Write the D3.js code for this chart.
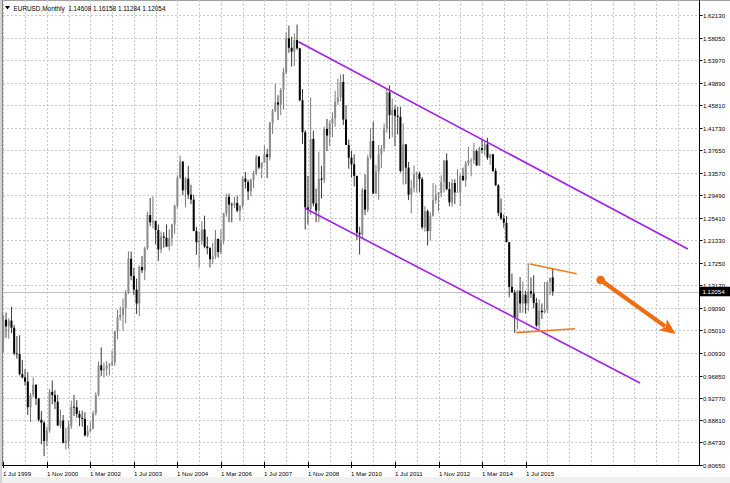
<!DOCTYPE html>
<html><head><meta charset="utf-8">
<script src="https://cdn.jsdelivr.net/npm/d3@7"></script>
<style>html,body{margin:0;padding:0;background:#fff;}svg{display:block;}</style>
</head><body>
<svg id="c" width="730" height="483"></svg>
<script>
// ---- data: EURUSD monthly, Jul 1999 .. May 2016 ----
const startMonth = "Jul 1999";
const opens = [
1.0345,1.0695,1.0575,1.0680,1.0550,1.0085,
1.0070,0.9710,0.9650,0.9575,0.9110,0.9335,0.9520,0.9270,0.8885,0.8830,0.8500,0.8690,
0.9390,0.9330,0.9210,0.8780,0.8870,0.8470,0.8500,0.8770,0.9120,0.9110,0.8990,0.8920,
0.8900,0.8600,0.8680,0.8720,0.9000,0.9330,0.9870,0.9780,0.9810,0.9860,0.9890,0.9920,
1.0490,1.0740,1.0780,1.0910,1.1180,1.1800,1.1490,1.1240,1.0990,1.1650,1.1590,1.1990,
1.2590,1.2460,1.2480,1.2320,1.1970,1.2200,1.2180,1.2020,1.2170,1.2420,1.2760,1.3260,
1.3560,1.3040,1.3250,1.2960,1.2870,1.2300,1.2100,1.2130,1.2330,1.2020,1.1990,1.1790,
1.1840,1.2160,1.1920,1.2120,1.2620,1.2920,1.2780,1.2770,1.2810,1.2670,1.2760,1.3250,
1.3190,1.3020,1.3230,1.3350,1.3650,1.3450,1.3540,1.3690,1.3640,1.4260,1.4480,1.4630,
1.4590,1.4860,1.5180,1.5790,1.5620,1.5550,1.5760,1.5610,1.4670,1.4090,1.2730,1.2700,
1.3970,1.2800,1.2670,1.3250,1.3230,1.4150,1.4030,1.4250,1.4340,1.4640,1.4720,1.5000,
1.4320,1.3860,1.3630,1.3510,1.3300,1.2270,1.2240,1.3050,1.2690,1.3630,1.3930,1.2980,
1.3380,1.3690,1.3800,1.4160,1.4810,1.4400,1.4500,1.4390,1.4370,1.3390,1.3870,1.3450,
1.2960,1.3080,1.3330,1.3340,1.3240,1.2370,1.2660,1.2300,1.2580,1.2860,1.2960,1.2990,
1.3190,1.3580,1.3060,1.2820,1.3170,1.3000,1.3010,1.3300,1.3220,1.3530,1.3580,1.3590,
1.3750,1.3490,1.3800,1.3770,1.3870,1.3630,1.3690,1.3390,1.3130,1.2630,1.2530,1.2450,
1.2100,1.1290,1.1190,1.0730,1.1220,1.0990,1.1150,1.0990,1.1210,1.1170,1.1000,1.0590,
1.0860,1.0830,1.0870,1.1380,1.14608];
const highs = [
1.0780,1.0825,1.0720,1.0930,1.0600,1.0400,
1.0415,0.9965,0.9800,0.9745,0.9370,0.9650,0.9520,0.9280,0.9040,0.8860,0.8760,0.9440,
0.9595,0.9420,0.9335,0.9070,0.8970,0.8740,0.8860,0.9230,0.9335,0.9240,0.9050,0.9050,
0.9020,0.8780,0.8850,0.9050,0.9380,0.9940,1.0195,0.9920,0.9950,0.9910,1.0140,1.0490,
1.0880,1.0935,1.1080,1.1230,1.1935,1.1930,1.1640,1.1440,1.1680,1.1850,1.2020,1.2650,
1.2900,1.2930,1.2490,1.2420,1.2290,1.2280,1.2420,1.2330,1.2430,1.2780,1.3310,1.3667,
1.3570,1.3280,1.3480,1.3140,1.2960,1.2380,1.2290,1.2480,1.2580,1.2200,1.2010,1.2090,
1.2320,1.2160,1.2330,1.2630,1.2980,1.2980,1.2820,1.2920,1.2940,1.2770,1.3290,1.3370,
1.3230,1.3250,1.3390,1.3680,1.3660,1.3550,1.3850,1.3790,1.4280,1.4510,1.4970,1.4760,
1.4890,1.5250,1.5900,1.6020,1.5820,1.5880,1.6038,1.5620,1.4870,1.4130,1.3300,1.4720,
1.4120,1.3070,1.3740,1.3480,1.4190,1.4330,1.4300,1.4450,1.4840,1.5060,1.5140,1.5140,
1.4580,1.3960,1.3750,1.3690,1.3300,1.2380,1.3080,1.3330,1.3680,1.4160,1.4280,1.3500,
1.3860,1.3860,1.4250,1.4880,1.4940,1.4700,1.4580,1.4550,1.4550,1.4250,1.3880,1.3550,
1.3230,1.3490,1.3380,1.3380,1.3280,1.2750,1.2690,1.2640,1.3170,1.3140,1.3010,1.3310,
1.3590,1.3710,1.3190,1.3240,1.3240,1.3420,1.3340,1.3450,1.3570,1.3830,1.3620,1.3900,
1.3780,1.3830,1.3970,1.3910,1.3990,1.3700,1.3700,1.3440,1.3150,1.2890,1.2600,1.2570,
1.2100,1.1530,1.1240,1.1230,1.1470,1.1390,1.1220,1.1715,1.1460,1.1500,1.1090,1.1060,
1.0990,1.1380,1.1390,1.1460,1.16158];
const lows = [
1.0107,1.0370,1.0350,1.0450,1.0050,0.9990,
0.9685,0.9630,0.9505,0.8970,0.8845,0.9290,0.9150,0.8850,0.8440,0.8225,0.8400,0.8650,
0.9165,0.9080,0.8770,0.8730,0.8455,0.8345,0.8365,0.8720,0.8950,0.8920,0.8770,0.8760,
0.8580,0.8570,0.8660,0.8710,0.8960,0.9310,0.9680,0.9650,0.9680,0.9690,0.9860,0.9860,
1.0340,1.0680,1.0500,1.0630,1.1160,1.1410,1.1140,1.0800,1.0760,1.1540,1.1410,1.1960,
1.2390,1.2350,1.2060,1.1760,1.1900,1.2000,1.2010,1.1950,1.2030,1.2250,1.2710,1.3250,
1.2950,1.2730,1.2880,1.2790,1.2300,1.1870,1.1640,1.2050,1.1990,1.1880,1.1640,1.1700,
1.1800,1.1820,1.1880,1.2060,1.2560,1.2460,1.2460,1.2720,1.2640,1.2480,1.2710,1.3070,
1.2860,1.2930,1.3080,1.3310,1.3420,1.3260,1.3540,1.3260,1.3580,1.4060,1.4450,1.4310,
1.4400,1.4500,1.5140,1.5530,1.5280,1.5290,1.5580,1.4650,1.3880,1.2330,1.2420,1.2590,
1.2750,1.2460,1.2460,1.2890,1.3170,1.3750,1.3840,1.4000,1.4190,1.4580,1.4650,1.4220,
1.3860,1.3430,1.3270,1.3110,1.2140,1.1876,1.2150,1.2590,1.2640,1.3600,1.2970,1.2970,
1.2870,1.3440,1.3740,1.4080,1.3970,1.4000,1.3840,1.4050,1.3360,1.3140,1.3150,1.2860,
1.2620,1.3000,1.3000,1.3000,1.2330,1.2290,1.2040,1.2130,1.2560,1.2800,1.2660,1.2910,
1.3000,1.3040,1.2750,1.2740,1.2790,1.3000,1.2750,1.3210,1.3100,1.3480,1.3290,1.3520,
1.3480,1.3480,1.3710,1.3670,1.3590,1.3500,1.3370,1.3120,1.2570,1.2500,1.2360,1.2100,
1.1100,1.1190,1.0460,1.0520,1.0820,1.0820,1.0810,1.0850,1.1090,1.0900,1.0560,1.0520,
1.0710,1.0810,1.0820,1.1140,1.11284];
const closes = [
1.0695,1.0575,1.0680,1.0550,1.0085,1.0070,
0.9710,0.9650,0.9575,0.9110,0.9335,0.9520,0.9270,0.8885,0.8830,0.8500,0.8690,0.9390,
0.9330,0.9210,0.8780,0.8870,0.8470,0.8500,0.8770,0.9120,0.9110,0.8990,0.8920,0.8900,
0.8600,0.8680,0.8720,0.9000,0.9330,0.9870,0.9780,0.9810,0.9860,0.9890,0.9920,1.0490,
1.0740,1.0780,1.0910,1.1180,1.1800,1.1490,1.1240,1.0990,1.1650,1.1590,1.1990,1.2590,
1.2460,1.2480,1.2320,1.1970,1.2200,1.2180,1.2020,1.2170,1.2420,1.2760,1.3260,1.3560,
1.3040,1.3250,1.2960,1.2870,1.2300,1.2100,1.2130,1.2330,1.2020,1.1990,1.1790,1.1840,
1.2160,1.1920,1.2120,1.2620,1.2920,1.2780,1.2770,1.2810,1.2670,1.2760,1.3250,1.3190,
1.3020,1.3230,1.3350,1.3650,1.3450,1.3540,1.3690,1.3640,1.4260,1.4480,1.4630,1.4590,
1.4860,1.5180,1.5790,1.5620,1.5550,1.5760,1.5610,1.4670,1.4090,1.2730,1.2700,1.3970,
1.2800,1.2670,1.3250,1.3230,1.4150,1.4030,1.4250,1.4340,1.4640,1.4720,1.5000,1.4320,
1.3860,1.3630,1.3510,1.3300,1.2270,1.2240,1.3050,1.2690,1.3630,1.3930,1.2980,1.3380,
1.3690,1.3800,1.4160,1.4810,1.4400,1.4500,1.4390,1.4370,1.3390,1.3870,1.3450,1.2960,
1.3080,1.3330,1.3340,1.3240,1.2370,1.2660,1.2300,1.2580,1.2860,1.2960,1.2990,1.3190,
1.3580,1.3060,1.2820,1.3170,1.3000,1.3010,1.3300,1.3220,1.3530,1.3580,1.3590,1.3750,
1.3490,1.3800,1.3770,1.3870,1.3630,1.3690,1.3390,1.3130,1.2630,1.2530,1.2450,1.2100,
1.1290,1.1190,1.0730,1.1220,1.0990,1.1150,1.0990,1.1210,1.1170,1.1000,1.0590,1.0860,
1.0830,1.0870,1.1380,1.1450,1.12054];

const priceTicks = [1.62130,1.58050,1.53970,1.49890,1.45810,1.41730,1.37650,1.33570,1.29490,1.25410,
  1.21330,1.17250,1.13170,1.09090,1.05010,1.00930,0.96850,0.92770,0.88810,0.84730,0.80650];
const timeTickIdx = [0,16,32,48,64,80,96,112,128,144,160,176,192];
const timeTickLabels = ["1 Jul 1999","1 Nov 2000","1 Mar 2002","1 Jul 2003","1 Nov 2004","1 Mar 2006",
  "1 Jul 2007","1 Nov 2008","1 Mar 2010","1 Jul 2011","1 Nov 2012","1 Mar 2014","1 Jul 2015"];
const titleText = "EURUSD,Monthly  1.14608 1.16158 1.11284 1.12054";
const lastPrice = 1.12054;
// drawn objects, in [month index, price]
const channelUpper = [[108.5,1.5730],[251.7,1.1976]];
const channelLower = [[110.9,1.2713],[234.1,0.9550]];
const triUpper = [[193.6,1.1705],[210.8,1.1529]];
const triLower = [[188.5,1.0461],[210.2,1.0533]];
const arrowPts = [[219.6,1.1415],[247.2,1.0437]];

// ---- drawing ----
const svg = d3.select("#c");
const W = 730, H = 483;
const plotL = 3, plotR = 699.5, plotT = 0, plotB = 465.5;
const x = d3.scaleLinear().domain([0, 255]).range([3.3, 3.3 + 255*2.72]);
const y = d3.scaleLinear().domain([0.80650, 1.62130]).range([465, 15]);
const font = "'Liberation Sans', Arial, sans-serif";

svg.append("rect").attr("x",0).attr("y",0).attr("width",W).attr("height",H).attr("fill","#fff");
svg.append("rect").attr("x",0).attr("y",477).attr("width",W).attr("height",6).attr("fill","#f0f0f0");
svg.append("rect").attr("x",0).attr("y",0).attr("width",W).attr("height",1).attr("fill","#a0a0a0");
svg.append("rect").attr("x",0).attr("y",0).attr("width",2).attr("height",H).attr("fill","#d4d4d4");
svg.append("line").attr("x1",2.5).attr("x2",2.5).attr("y1",0).attr("y2",466).attr("stroke","#808080");

const grid = svg.append("g").attr("stroke","#c8c8c8").attr("stroke-dasharray","2,2").attr("stroke-width",1);
priceTicks.forEach(p => {
  const yy = Math.round(y(p)) + 0.5;
  grid.append("line").attr("x1",plotL).attr("x2",plotR).attr("y1",yy).attr("y2",yy);
});
d3.range(0, 256, 8).forEach(i => {
  const xx = Math.round(x(i)) + 0.5;
  if (xx < plotR) grid.append("line").attr("x1",xx).attr("x2",xx).attr("y1",plotT).attr("y2",plotB);
});

// bid line
svg.append("line").attr("x1",plotL).attr("x2",plotR)
  .attr("y1",Math.round(y(lastPrice))+0.5).attr("y2",Math.round(y(lastPrice))+0.5)
  .attr("stroke","#c0c0c0").attr("stroke-width",1);

// candles
const candles = svg.append("g");
closes.forEach((c, i) => {
  const o = opens[i], h = highs[i], l = lows[i];
  const cx = x(i);
  const bull = c >= o;
  candles.append("line").attr("x1",cx).attr("x2",cx).attr("y1",y(h)).attr("y2",y(l))
    .attr("stroke", bull ? "#6a6a6a" : "#222").attr("stroke-width",0.9);
  const top = y(Math.max(o,c)), bot = y(Math.min(o,c));
  candles.append("rect").attr("x",cx-1).attr("width",2)
    .attr("y",top).attr("height",Math.max(0.8, bot-top))
    .attr("fill", bull ? "#8a8a8a" : "#000");
});

// trend lines
const ln = d3.line().x(d => x(d[0])).y(d => y(d[1]));
[channelUpper, channelLower].forEach(pts => {
  svg.append("path").attr("d", ln(pts)).attr("stroke","#a020f0").attr("stroke-width",1.6).attr("fill","none");
});
[triUpper, triLower].forEach(pts => {
  svg.append("path").attr("d", ln(pts)).attr("stroke","#f07a22").attr("stroke-width",1.6).attr("fill","none");
});

// arrow
const ax1 = x(arrowPts[0][0]), ay1 = y(arrowPts[0][1]);
const ax2 = x(arrowPts[1][0]), ay2 = y(arrowPts[1][1]);
const ang = Math.atan2(ay2-ay1, ax2-ax1);
const headLen = 16, headHalf = 7;
const bx = ax2 - headLen*Math.cos(ang), by = ay2 - headLen*Math.sin(ang);
const arrowColor = "#ef6d10";
svg.append("line").attr("x1",ax1).attr("y1",ay1).attr("x2",bx+3*Math.cos(ang)).attr("y2",by+3*Math.sin(ang))
  .attr("stroke",arrowColor).attr("stroke-width",4.2);
svg.append("circle").attr("cx",ax1).attr("cy",ay1).attr("r",4.3).attr("fill",arrowColor);
svg.append("path").attr("fill",arrowColor).attr("d",
  `M${ax2},${ay2} L${bx - headHalf*Math.sin(ang)},${by + headHalf*Math.cos(ang)} L${bx + 4*Math.cos(ang)},${by + 4*Math.sin(ang)} L${bx + headHalf*Math.sin(ang)},${by - headHalf*Math.cos(ang)} Z`);

// axes frame
svg.append("line").attr("x1",plotR).attr("x2",plotR).attr("y1",0).attr("y2",plotB).attr("stroke","#000");
svg.append("line").attr("x1",2).attr("x2",plotR).attr("y1",plotB).attr("y2",plotB).attr("stroke","#000");

// price axis labels
const pa = svg.append("g");
priceTicks.forEach(p => {
  const yy = Math.round(y(p)) + 0.5;
  pa.append("line").attr("x1",plotR).attr("x2",plotR+3).attr("y1",yy).attr("y2",yy).attr("stroke","#000");
  pa.append("text").attr("x",703).attr("y",yy+2.2).attr("font-family",font).attr("font-size",6.1)
    .attr("fill","#000").text(p.toFixed(5));
});
// last price box
const ly = y(lastPrice);
svg.append("rect").attr("x",700).attr("y",ly-4.8).attr("width",30).attr("height",9.5).attr("fill","#000");
svg.append("text").attr("x",702.5).attr("y",ly+2.3).attr("font-family",font).attr("font-size",6.1)
  .attr("fill","#fff").text(lastPrice.toFixed(5));

// time axis labels
const ta = svg.append("g");
timeTickIdx.forEach((idx, k) => {
  const xx = Math.round(x(idx)) + 0.5;
  ta.append("line").attr("x1",xx).attr("x2",xx).attr("y1",462).attr("y2",468).attr("stroke","#000");
  ta.append("text").attr("x",xx-0.5).attr("y",476).attr("font-family",font).attr("font-size",6.1)
    .attr("fill","#000").text(timeTickLabels[k]);
});

// title
svg.append("path").attr("d","M5,6 L10,6 L7.5,9.5 Z").attr("fill","#000");
svg.append("text").attr("x",13.5).attr("y",10.5).attr("font-family",font).attr("font-size",6.4)
  .attr("fill","#000").attr("xml:space","preserve").style("white-space","pre").text(titleText);
</script>
</body></html>
